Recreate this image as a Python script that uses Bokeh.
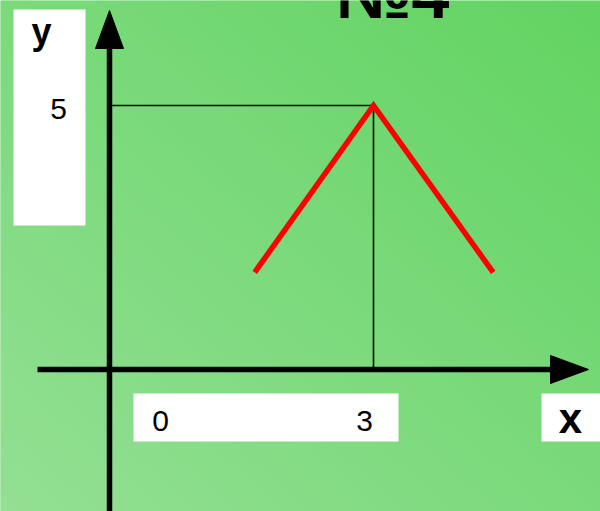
import numpy as np
from bokeh.plotting import figure
from bokeh.models import Range1d
from bokeh.core.properties import value
from bokeh.embed import file_html
from bokeh.resources import INLINE

# ---- data ----
line_x = [1.65, 3.0, 4.36]
line_y = [1.84, 5.0, 1.84]
peak_x = 3.0
peak_y = 5.0
x_tick_vals = [0, 3]
x_tick_labels = ["0", "3"]
y_tick_vals = [5]
y_tick_labels = ["5"]
title_text = "№4"
x_name = "x"
y_name = "y"

W, H = 600, 511
# pixel scale of the drawing (px per unit)
UX, UY = 88.0, 52.8
OX, OY = 109.0, 369.0  # origin in pixels (from left, from top)

def X(px):  # pixel -> data x
    return (px - OX) / UX

def Y(py):  # pixel (from top) -> data y
    return (OY - py) / UY

p = figure(width=W, height=H, output_backend="svg", toolbar_location=None,
           x_range=Range1d(X(0), X(W)), y_range=Range1d(Y(H), Y(0)),
           x_axis_location=None, y_axis_location=None, min_border=0,
           background_fill_color="#7BDA7B", border_fill_color="#7BDA7B",
           outline_line_color=None)
p.grid.visible = False

# background gradient (light bottom-left -> darker top-right)
cols = np.arange(W)
rows = np.arange(H)
pxg, rg = np.meshgrid(cols, rows)
pageY = (H - 1 - rg)
s = (pxg / 600.0 + (1 - pageY / 511.0)) / 2.0
light = np.array([148, 224, 148])
dark = np.array([98, 212, 98])
img = np.empty((H, W), dtype=np.uint32)
view = img.view(dtype=np.uint8).reshape((H, W, 4))
for k in range(3):
    view[:, :, k] = (light[k] + s * (dark[k] - light[k])).astype(np.uint8)
view[:, :, 3] = 255
p.image_rgba(image=[img], x=X(0), y=Y(H), dw=X(W) - X(0), dh=Y(0) - Y(H))

# white label boxes
p.quad(left=[X(13), X(133), X(541)], right=[X(85), X(398), X(602)],
       top=[Y(9), Y(393), Y(393)], bottom=[Y(225), Y(441), Y(441)],
       fill_color="white", line_color=None)

# thin guide lines to the peak
p.line([0, peak_x], [peak_y, peak_y], line_color="black", line_width=1.6)
p.line([peak_x, peak_x], [0, peak_y], line_color="black", line_width=1.6)

# axes with arrows
p.line([X(37), X(551)], [0, 0], line_color="black", line_width=5.5)
p.line([0, 0], [Y(H + 10), Y(47)], line_color="black", line_width=5.5)
p.patch([X(550), X(588), X(550)], [Y(355), 0, Y(383)], fill_color="black", line_color="black")
p.patch([X(95), 0, X(123)], [Y(48), Y(10), Y(48)], fill_color="black", line_color="black")

# red polyline
p.line(line_x, line_y, line_color="#FF0000", line_width=5.5, line_join="miter")

font = value("Liberation Sans")
# tick labels
p.text(x=x_tick_vals, y=[Y(420)] * len(x_tick_vals), text=x_tick_labels,
       x_offset=[51, -9],
       text_font=font, text_font_size="30px", text_align="center",
       text_baseline="alphabetic", text_color="black")
p.text(x=y_tick_vals and [X(58)], y=[Y(108)], text=y_tick_labels,
       text_font=font, text_font_size="30px", text_align="center",
       text_baseline="alphabetic", text_color="black")
# axis names
p.text(x=[X(41)], y=[Y(31)], text=[y_name], text_font=font, text_font_size="36px",
       text_font_style="bold", text_align="center", text_baseline="alphabetic",
       text_color="black")
p.text(x=[X(570)], y=[Y(418)], text=[x_name], text_font=font, text_font_size="42px",
       text_font_style="bold", text_align="center", text_baseline="alphabetic",
       text_color="black")
# title
p.text(x=[X(392)], y=[Y(-7)], text=[title_text], text_font=font, text_font_size="68px",
       text_font_style="bold", text_align="center", text_baseline="alphabetic",
       text_color="black")

open("out.html", "w").write(file_html(p, INLINE))
